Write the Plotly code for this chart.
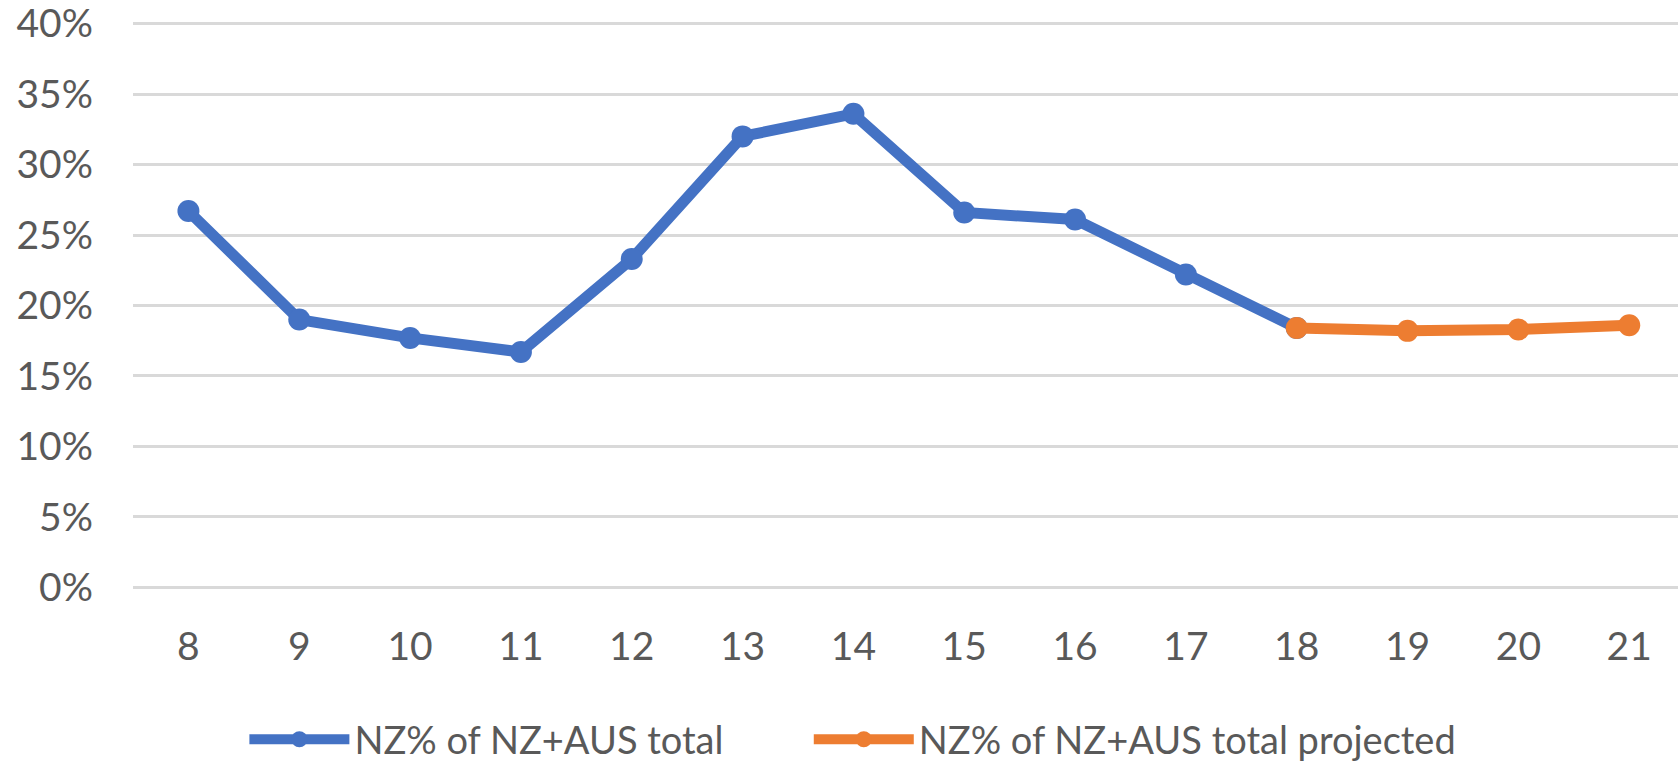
import plotly.graph_objects as go

years = [8, 9, 10, 11, 12, 13, 14, 15, 16, 17, 18, 19, 20, 21]
actual_years = [8, 9, 10, 11, 12, 13, 14, 15, 16, 17, 18]
actual_vals = [26.7, 19.0, 17.7, 16.7, 23.3, 32.0, 33.6, 26.6, 26.1, 22.2, 18.4]
proj_years = [18, 19, 20, 21]
proj_vals = [18.4, 18.2, 18.3, 18.6]
y_ticks = [0, 5, 10, 15, 20, 25, 30, 35, 40]
y_labels = [f"{v}%" for v in y_ticks]

BLUE = "#4472C4"
ORANGE = "#ED7D31"
FONT = "Lato"
GRAY = "#595959"

fig = go.Figure()
fig.add_trace(go.Scatter(
    x=actual_years, y=actual_vals, mode="lines+markers",
    name="NZ% of NZ+AUS total",
    line=dict(color=BLUE, width=11),
    marker=dict(color=BLUE, size=22),
    legend="legend",
))
fig.add_trace(go.Scatter(
    x=proj_years, y=proj_vals, mode="lines+markers",
    name="NZ% of NZ+AUS total projected",
    line=dict(color=ORANGE, width=11),
    marker=dict(color=ORANGE, size=22),
    legend="legend2",
))

leg_common = dict(orientation="h", xanchor="left", yref="container", y=0.032,
                  yanchor="middle",
                  font=dict(family=FONT, size=38, color=GRAY), itemwidth=100,
                  bgcolor="rgba(0,0,0,0)")

fig.update_layout(
    width=1678, height=764,
    margin=dict(l=133, r=0, t=18, b=171),
    paper_bgcolor="white", plot_bgcolor="white",
    font=dict(family=FONT, size=38, color=GRAY),
    showlegend=True,
    legend=dict(x=0.0721, **leg_common),
    legend2=dict(x=0.4374, **leg_common),
    xaxis=dict(range=[7.5, 21.44], tickmode="array", tickvals=years,
               ticktext=[str(y) for y in years], showgrid=False, zeroline=False,
               showline=False, ticks="", ticklabelstandoff=27, automargin=False,
               tickfont=dict(family=FONT, size=39, color=GRAY)),
    yaxis=dict(range=[-0.4, 40.4], tickmode="array", tickvals=y_ticks, ticktext=y_labels,
               showgrid=True, gridcolor="#D9D9D9", gridwidth=3,
               zeroline=True, zerolinecolor="#D9D9D9", zerolinewidth=3,
               showline=False, ticks="", ticklabelstandoff=39, automargin=False,
               ticklabeloverflow="allow",
               tickfont=dict(family=FONT, size=39, color=GRAY)),
)

fig.write_html("out.html",
               config={"displayModeBar": False},
               post_script="document.body.style.margin='0';document.body.style.overflow='hidden';")
